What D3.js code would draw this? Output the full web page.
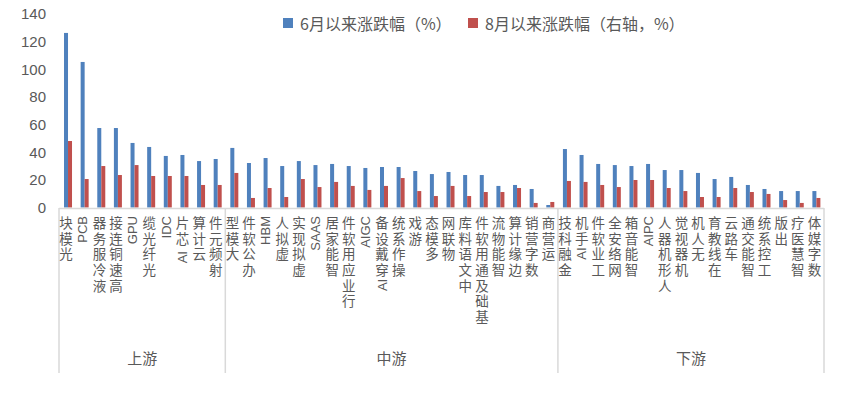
<!DOCTYPE html>
<html><head><meta charset="utf-8">
<script src="https://cdn.jsdelivr.net/npm/d3@7"></script>
<style>
html,body{margin:0;padding:0;background:#fff;}
svg{display:block;}
</style></head>
<body>
<svg id="chart" width="847" height="395"></svg>
<script>
const categories = ["光模块","PCB","液冷服务器","高速铜连接","GPU","光纤光缆","IDC","AI 芯片","云计算","射频元件",
"大模型","办公软件","HBM","虚拟人","虚拟现实","SAAS","智能家居","行业应用软件","AIGC","AI穿戴设备","操作系统","游戏","多模态","物联网","中文语料库","基础及通用软件","智能物流","边缘计算","数字营销","运营商",
"金融科技","AI手机","工业软件","网络安全","智能音箱","AIPC","人形机器人","机器视觉","无人机","在线教育","车路云","智能交通","工控系统","出版","智慧医疗","数字媒体"];
const groupNames = ["上游","中游","下游"];
const groupSizes = [10,20,16];
const seriesNames = ["6月以来涨跌幅（%）","8月以来涨跌幅（右轴，%）"];
const juneValues = [126.3,105.3,57.5,57.5,46.7,43.8,37.3,38.0,33.6,35.1,
43.1,32.2,35.8,30.0,33.6,30.7,31.5,30.0,28.6,29.3,29.3,26.4,24.2,25.7,23.5,23.5,15.6,16.3,13.4,1.8,
42.3,38.0,31.5,30.7,30.0,31.5,27.1,27.1,25.0,20.6,22.1,16.3,13.4,11.9,11.9,11.9];
const augValues = [48.1,20.6,30.0,23.5,30.7,22.8,22.8,22.8,16.3,16.3,
25.0,6.9,14.1,7.6,20.6,14.8,18.5,15.6,12.7,15.6,21.3,11.9,8.3,15.6,8.3,11.2,11.2,14.1,3.3,4.0,
19.2,18.5,16.3,14.8,19.9,19.9,14.1,11.9,7.6,7.6,14.1,11.2,9.8,5.4,3.3,6.9];
const yTicks = [0,20,40,60,80,100,120,140];

const colors = ["#4F81BD","#C0504D"];
const textColor = "#595959";
const lineColor = "#D9D9D9";
const svg = d3.select("#chart");

const x = d3.scaleBand().domain(categories).range([59, 824]).padding(0);
const y = d3.scaleLinear().domain([0,140]).range([207.5, 14]);
const bw = x.bandwidth();

// Y axis labels (no line)
const yAxis = d3.axisLeft(y).tickValues(yTicks).tickSize(0).tickPadding(0);
const gy = svg.append("g").attr("transform","translate(46,0)").call(yAxis);
gy.select(".domain").remove();
gy.selectAll("text").attr("fill",textColor).style("font-family","Liberation Sans, Arial, sans-serif").style("font-size","15px");

// bars
const pc = d => x(d) + bw/2 + 0.7;
svg.append("g").selectAll("rect").data(categories).join("rect")
  .attr("x", d => pc(d) - 4).attr("width", 4)
  .attr("y", (d,i) => y(juneValues[i])).attr("height", (d,i) => y(0) - y(juneValues[i]))
  .attr("fill", colors[0]);
svg.append("g").selectAll("rect").data(categories).join("rect")
  .attr("x", d => pc(d)).attr("width", 4)
  .attr("y", (d,i) => y(augValues[i])).attr("height", (d,i) => y(0) - y(augValues[i]))
  .attr("fill", colors[1]);

// category axis line
svg.append("line").attr("x1",59).attr("x2",824).attr("y1",208.5).attr("y2",208.5)
  .attr("stroke",lineColor).attr("stroke-width",1.5);

// group separators and labels
let start = 0;
const bounds = [x(categories[0])];
groupSizes.forEach((n,gi) => {
  const x0 = x(categories[start]);
  const x1 = x(categories[start+n-1]) + bw;
  bounds.push(x1);
  svg.append("text").attr("x",(x0+x1)/2).attr("y",357).attr("text-anchor","middle")
    .attr("dominant-baseline","central").attr("fill",textColor)
    .style("font-family","Noto Sans CJK SC, sans-serif").style("font-size","15px").text(groupNames[gi]);
  start += n;
});
bounds.forEach(bx => {
  svg.append("line").attr("x1",bx).attr("x2",bx).attr("y1",208).attr("y2",373)
    .attr("stroke",lineColor).attr("stroke-width",1.5);
});

// vertical category labels: read bottom-to-top, CJK upright, Latin rotated
const cjkFs = 13.5, latFs = 13, adv = 15.7;
const isCJK = ch => /[\u3000-\u9fff\uff00-\uffef]/.test(ch);
const meas = svg.append("text").style("font-family","Liberation Sans, Arial, sans-serif")
  .style("font-size", latFs+"px").style("white-space","pre").attr("x",-100).attr("y",-100);
const charW = ch => { if (ch === " ") return latFs*0.278; meas.text(ch); return meas.node().getComputedTextLength(); };
const labG = svg.append("g");
categories.forEach(cat => {
  const chars = Array.from(cat);
  const tokens = [];
  chars.forEach(ch => {
    if (isCJK(ch)) tokens.push({chars:[ch], cjk:true});
    else {
      const last = tokens[tokens.length-1];
      if (last && !last.cjk) last.chars.push(ch); else tokens.push({chars:[ch], cjk:false});
    }
  });
  const cx = x(cat) + bw/2 - 1.2;
  const pos = new Array(chars.length);
  let idx = 0;
  tokens.forEach(tk => { tk.start = idx; idx += tk.chars.length; });
  let yc = 215;
  for (let k = tokens.length-1; k >= 0; k--) {
    const tk = tokens[k];
    if (tk.cjk) {
      pos[tk.start] = {x: cx - cjkFs/2, y: yc + adv/2 + 0.38*cjkFs, r: 0, fs: cjkFs, cjk:true};
      yc += adv;
    } else {
      const ws = tk.chars.map(charW);
      const L = d3.sum(ws);
      let yy = yc + L + 1;
      tk.chars.forEach((ch,j) => {
        pos[tk.start + j] = {x: cx + 0.36*latFs, y: yy, r: -90, fs: latFs, cjk:false};
        yy -= ws[j];
      });
      yc += L + 2;
    }
  }
  const t = labG.append("text").attr("fill",textColor).style("white-space","pre");
  chars.forEach((ch,i) => {
    const p = pos[i];
    t.append("tspan").attr("x", p.x.toFixed(2)).attr("y", p.y.toFixed(2)).attr("rotate", p.r)
      .style("font-family", p.cjk ? "Noto Sans CJK SC, sans-serif" : "Liberation Sans, Arial, sans-serif")
      .style("font-size", p.fs+"px").text(ch);
  });
});
meas.remove();

// legend
const legend = [{x:283, tx:300},{x:468, tx:485}];
legend.forEach((l,i) => {
  svg.append("rect").attr("x",l.x).attr("y",18).attr("width",10).attr("height",10).attr("fill",colors[i]);
  svg.append("text").attr("x",l.tx).attr("y",23).attr("dominant-baseline","central").attr("fill",textColor)
    .style("font-family","Noto Sans CJK SC, sans-serif").style("font-size","16px").text(seriesNames[i]);
});
</script>
</body></html>
